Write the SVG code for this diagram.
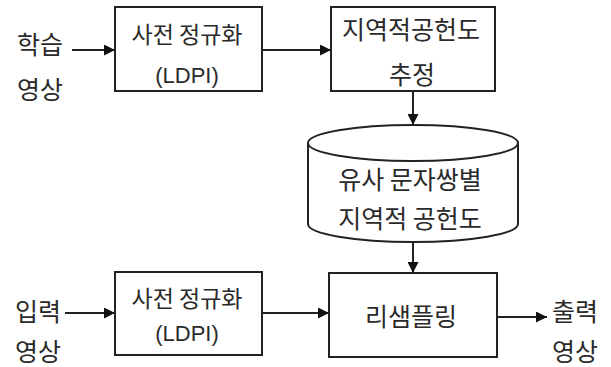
<svg xmlns="http://www.w3.org/2000/svg" width="611" height="367" viewBox="0 0 611 367">
<style>
.box{fill:#fff;stroke:#222;stroke-width:2}
.k{font-family:"Noto Sans CJK KR","Noto Sans",sans-serif;font-size:25px;fill:#2a2a2a;text-anchor:middle;dominant-baseline:central}
.s{font-size:23px}
.l{font-family:"Liberation Sans",Arial,sans-serif;font-size:22px;fill:#2a2a2a;text-anchor:middle;dominant-baseline:central}
.c{stroke:#222;stroke-width:2;fill:none;marker-end:url(#ah)}
</style>
<defs>
<marker id="ah" viewBox="0 0 10 10" refX="10" refY="5" markerWidth="11" markerHeight="11" markerUnits="userSpaceOnUse" orient="auto">
<path d="M0,0 L10,5 L0,10 z" fill="#111"/>
</marker>
</defs>
<rect width="611" height="367" fill="#fff"/>
<g id="connectors">
<line class="c" x1="72" y1="50" x2="115" y2="50"/>
<line class="c" x1="262" y1="50" x2="331" y2="50"/>
<line class="c" x1="413" y1="91" x2="413" y2="125"/>
<line class="c" x1="413" y1="242" x2="413" y2="273"/>
<line class="c" x1="65" y1="313" x2="115" y2="313"/>
<line class="c" x1="262" y1="313" x2="329" y2="313"/>
<line class="c" x1="497" y1="317" x2="547" y2="317"/>
</g>
<g id="in1">
<text class="k" x="40" y="43">학습</text>
<text class="k" x="40" y="88">영상</text>
</g>
<g id="norm1">
<rect class="box" x="115" y="7" width="147" height="84"/>
<text class="k s" x="187" y="33">사전 정규화</text>
<text class="l" x="187" y="75">(LDPI)</text>
</g>
<g id="estimate">
<rect class="box" x="331" y="7" width="164" height="84"/>
<text class="k" x="411" y="28">지역적공헌도</text>
<text class="k" x="412" y="73">추정</text>
</g>
<g id="db">
<path class="box" d="M308,143 L308,224 A105,18 0 0 0 518,224 L518,143"/>
<ellipse class="box" cx="413" cy="143" rx="105" ry="18"/>
<text class="k" x="410" y="178">유사 문자쌍별</text>
<text class="k" x="410" y="217">지역적 공헌도</text>
</g>
<g id="in2">
<text class="k" x="38" y="310">입력</text>
<text class="k" x="38" y="350">영상</text>
</g>
<g id="norm2">
<rect class="box" x="115" y="272" width="147" height="83"/>
<text class="k s" x="187" y="297">사전 정규화</text>
<text class="l" x="187" y="333">(LDPI)</text>
</g>
<g id="resample">
<rect class="box" x="329" y="273" width="168" height="84"/>
<text class="k" x="411" y="315">리샘플링</text>
</g>
<g id="out">
<text class="k" x="575" y="310">출력</text>
<text class="k" x="575" y="350">영상</text>
</g>
</svg>
